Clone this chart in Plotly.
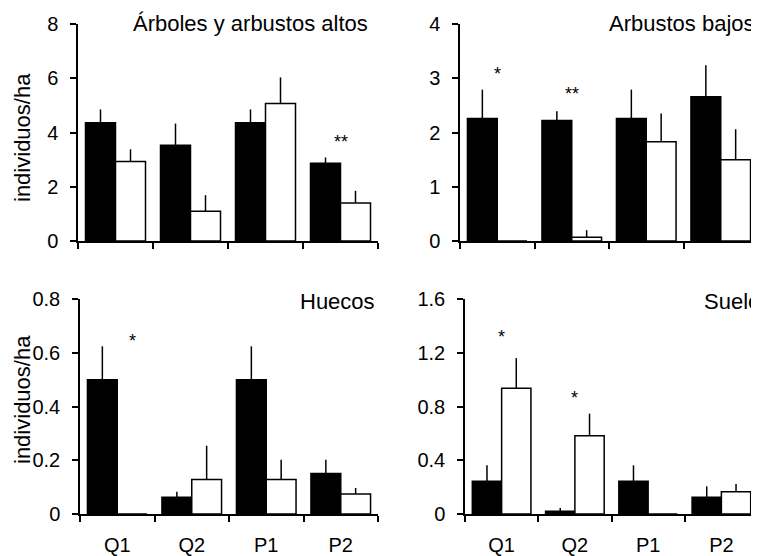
import plotly.graph_objects as go

OFF = 8                      # page body margin of the browser
W, H = 759 - OFF, 556 - OFF  # figure size so the page fits the window
FONT = "Liberation Sans, Arial, sans-serif"


def fx(px):
    return (px - OFF) / W


def fy(py):
    return 1 - (py - OFF) / H


categories = ["Q1", "Q2", "P1", "P2"]

# Árboles y arbustos altos
arb_black = [4.36, 3.53, 4.36, 2.87]
arb_black_se = [0.49, 0.80, 0.49, 0.21]
arb_white = [2.93, 1.10, 5.07, 1.40]
arb_white_se = [0.45, 0.59, 0.96, 0.45]

# Arbustos bajos
baj_black = [2.26, 2.22, 2.26, 2.66]
baj_black_se = [0.53, 0.17, 0.53, 0.58]
baj_white = [0.0, 0.07, 1.83, 1.50]
baj_white_se = [0.0, 0.13, 0.52, 0.56]

# Huecos
hue_black = [0.50, 0.062, 0.50, 0.151]
hue_black_se = [0.124, 0.021, 0.124, 0.051]
hue_white = [0.0, 0.128, 0.128, 0.074]
hue_white_se = [0.0, 0.126, 0.074, 0.023]

# Suelo
sue_black = [0.243, 0.02, 0.243, 0.124]
sue_black_se = [0.119, 0.025, 0.119, 0.082]
sue_white = [0.935, 0.583, 0.0, 0.166]
sue_white_se = [0.225, 0.164, 0.0, 0.057]

panels = [
    dict(title="Árboles y arbustos altos", black=arb_black, bse=arb_black_se,
         white=arb_white, wse=arb_white_se, ymax=8, ticks=[0, 2, 4, 6, 8],
         ticktext=["0", "2", "4", "6", "8"],
         stars=[(3, 3.65, "**")]),
    dict(title="Arbustos bajos", black=baj_black, bse=baj_black_se,
         white=baj_white, wse=baj_white_se, ymax=4, ticks=[0, 1, 2, 3, 4],
         ticktext=["0", "1", "2", "3", "4"],
         stars=[(0, 3.08, "*"), (1, 2.71, "**")]),
    dict(title="Huecos", black=hue_black, bse=hue_black_se,
         white=hue_white, wse=hue_white_se, ymax=0.8, ticks=[0, 0.2, 0.4, 0.6, 0.8],
         ticktext=["0", "0.2", "0.4", "0.6", "0.8"],
         stars=[(0.2, 0.644, "*")]),
    dict(title="Suelo", black=sue_black, bse=sue_black_se,
         white=sue_white, wse=sue_white_se, ymax=1.6, ticks=[0, 0.4, 0.8, 1.2, 1.6],
         ticktext=["0", "0.4", "0.8", "1.2", "1.6"],
         stars=[(0, 1.317, "*"), (1, 0.863, "*")]),
]

# pixel boxes in the window (left, right, top, bottom)
boxes = [(78, 378, 24, 241), (460, 758, 24, 241), (80, 378, 299, 514), (465, 758, 299, 514)]
title_pos = [(370, 24), (757, 24), (377, 301), (762, 301)]

fig = go.Figure()
layout = dict(
    template="none",
    width=W, height=H,
    margin=dict(l=0, r=0, t=0, b=0, autoexpand=False),
    paper_bgcolor="white", plot_bgcolor="white",
    showlegend=False, barmode="group", bargap=0.2, bargroupgap=0,
    font=dict(family=FONT, size=20, color="black"),
)
annotations = []

for i, p in enumerate(panels):
    n = "" if i == 0 else str(i + 1)
    xa, ya = "x" + n, "y" + n
    for vals, se, fill in [(p["black"], p["bse"], "black"), (p["white"], p["wse"], "white")]:
        fig.add_trace(go.Bar(
            x=categories, y=vals, xaxis=xa, yaxis=ya,
            marker=dict(color=fill, line=dict(color="black", width=1.5)),
            error_y=dict(type="data", symmetric=False, array=se,
                         arrayminus=[0] * len(se), width=0, thickness=1.5, color="black"),
            hoverinfo="skip",
        ))
    l, r, t, b = boxes[i]
    bottom_row = i >= 2
    layout["xaxis" + n] = dict(
        domain=[fx(l), fx(r)], anchor=ya, type="category",
        categoryorder="array", categoryarray=categories, automargin=False,
        range=[-0.5, 3.5], showline=True, linecolor="black", linewidth=1.5,
        ticks="outside", tickson="boundaries", ticklen=6, tickwidth=1.5, tickcolor="black",
        showgrid=False, zeroline=False, showticklabels=bottom_row,
        tickfont=dict(size=20, color="black"), ticklabelstandoff=12,
    )
    layout["yaxis" + n] = dict(
        domain=[fy(b), fy(t)], anchor=xa, range=[0, p["ymax"]], automargin=False,
        tickmode="array", tickvals=p["ticks"], ticktext=p["ticktext"],
        showline=True, linecolor="black", linewidth=1.5,
        ticks="outside", ticklen=6, tickwidth=1.5, tickcolor="black",
        showgrid=False, zeroline=False,
        tickfont=dict(size=20, color="black"), ticklabelstandoff=8,
    )
    tx, ty = title_pos[i]
    annotations.append(dict(
        x=fx(tx), y=fy(ty), xref="paper", yref="paper",
        xanchor="right", yanchor="middle", text=p["title"], showarrow=False,
        font=dict(size=22, color="black", family=FONT),
    ))
    for sx, sy, st in p["stars"]:
        annotations.append(dict(
            x=sx, y=sy, xref=xa, yref=ya, xanchor="center", yanchor="middle",
            text=st, showarrow=False, font=dict(size=18, color="black", family=FONT),
        ))

for yc in [138, 400]:
    annotations.append(dict(
        x=fx(22), y=fy(yc), xref="paper", yref="paper",
        xanchor="center", yanchor="middle", text="individuos/ha", textangle=-90,
        showarrow=False, font=dict(size=22, color="black", family=FONT),
    ))

layout["annotations"] = annotations
fig.update_layout(**layout)
fig.write_html("out.html")
